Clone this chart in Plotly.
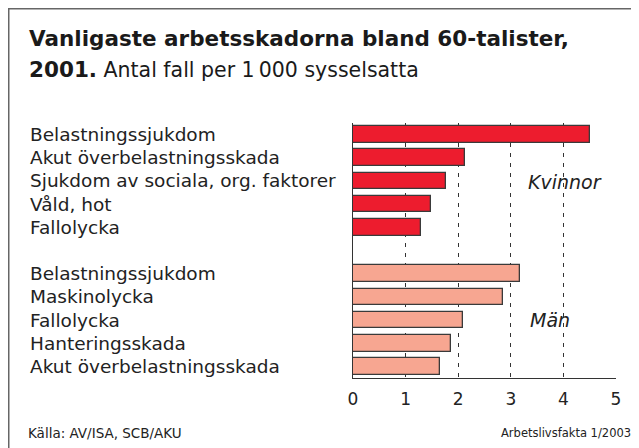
import plotly.graph_objects as go

# ---- data ----
kvinnor_categories = ["Belastningssjukdom", "Akut överbelastningsskada",
                      "Sjukdom av sociala, org. faktorer", "Våld, hot", "Fallolycka"]
kvinnor_values = [4.5, 2.13, 1.77, 1.49, 1.29]
man_categories = ["Belastningssjukdom", "Maskinolycka", "Fallolycka",
                  "Hanteringsskada", "Akut överbelastningsskada"]
man_values = [3.17, 2.86, 2.1, 1.86, 1.65]
x_ticks = [0, 1, 2, 3, 4, 5]
group_labels = ["Kvinnor", "Män"]

# ---- layout geometry (figure is placed 8px into the page) ----
W, H = 639, 448
OFF = 8
L, R, T, B = 345, 31, 115, 78
PW, PH = W - L - R, H - T - B
FONT = "DejaVu Sans"

def px(xs):
    return (xs - OFF - L) / PW

def py(ys):
    return (H - B - (ys - OFF)) / PH

kv_pos = list(range(len(kvinnor_values)))
man_pos = [len(kvinnor_values) + 1 + i for i in range(len(man_values))]

fig = go.Figure()
fig.add_trace(go.Bar(x=kvinnor_values, y=kv_pos, orientation="h", width=0.72,
                     marker=dict(color="#ED1C2E", line=dict(color="#3a3a3a", width=1.3)),
                     hoverinfo="skip", showlegend=False))
fig.add_trace(go.Bar(x=man_values, y=man_pos, orientation="h", width=0.72,
                     marker=dict(color="#F7A691", line=dict(color="#3a3a3a", width=1.3)),
                     hoverinfo="skip", showlegend=False))

annotations = []
for cats, pos in ((kvinnor_categories, kv_pos), (man_categories, man_pos)):
    for c, p in zip(cats, pos):
        annotations.append(dict(text=c, xref="paper", x=px(28), xanchor="left",
                                yref="y", y=p, yanchor="middle", showarrow=False,
                                font=dict(family=FONT, size=18.5, color="#222")))

annotations.append(dict(text=group_labels[0], xref="x", x=4.03, yref="y", y=2.05,
                        showarrow=False, xanchor="center", yanchor="middle",
                        font=dict(family=FONT, size=19, color="#222", style="italic")))
annotations.append(dict(text=group_labels[1], xref="x", x=3.75, yref="y", y=8,
                        showarrow=False, xanchor="center", yanchor="middle",
                        font=dict(family=FONT, size=19, color="#222", style="italic")))

# title
annotations.append(dict(text="<b>Vanligaste arbetsskadorna bland 60-talister,</b>",
                        xref="paper", x=px(27), xanchor="left",
                        yref="paper", y=py(38.5), yanchor="middle", showarrow=False,
                        font=dict(family=FONT, size=21.5, color="#1a1a1a")))
annotations.append(dict(text="<b>2001.</b><span style='font-size:20.5px'> Antal fall per 1\u2009000 sysselsatta</span>",
                        xref="paper", x=px(27), xanchor="left",
                        yref="paper", y=py(69.5), yanchor="middle", showarrow=False,
                        font=dict(family=FONT, size=21.5, color="#1a1a1a")))
# footer
annotations.append(dict(text="Källa: AV/ISA, SCB/AKU", xref="paper", x=px(26), xanchor="left",
                        yref="paper", y=py(433), yanchor="middle", showarrow=False,
                        font=dict(family=FONT, size=13.5, color="#222")))
annotations.append(dict(text="Arbetslivsfakta 1/2003", xref="paper", x=px(633), xanchor="right",
                        yref="paper", y=py(433), yanchor="middle", showarrow=False,
                        font=dict(family=FONT, size=11.5, color="#222")))

# frame around the whole figure
shapes = [
    dict(type="rect", xref="paper", yref="paper", x0=px(OFF + 0.75), x1=px(OFF + W - 0.75),
         y0=py(OFF + 0.75), y1=py(OFF + H - 0.75), line=dict(color="#666", width=1.5)),
]

fig.update_layout(
    width=W, height=H,
    margin=dict(l=L, r=R, t=T, b=B, pad=0),
    paper_bgcolor="white", plot_bgcolor="white",
    bargap=0,
    annotations=annotations, shapes=shapes,
    xaxis=dict(range=[0, 5], tickvals=x_ticks, ticktext=[str(t) for t in x_ticks],
               showgrid=True, gridcolor="#333", gridwidth=1, griddash="4px,6px",
               zeroline=False, showline=True, linecolor="#333", linewidth=1.3,
               ticks="", ticklabelstandoff=5,
               tickfont=dict(family=FONT, size=17, color="#222"), fixedrange=True),
    yaxis=dict(range=[len(kv_pos) + len(man_pos) + 0.5, -0.5], showgrid=False,
               zeroline=False, showline=True, linecolor="#333", linewidth=1.3,
               showticklabels=False, ticks="", fixedrange=True),
)

fig.write_html("out.html")
